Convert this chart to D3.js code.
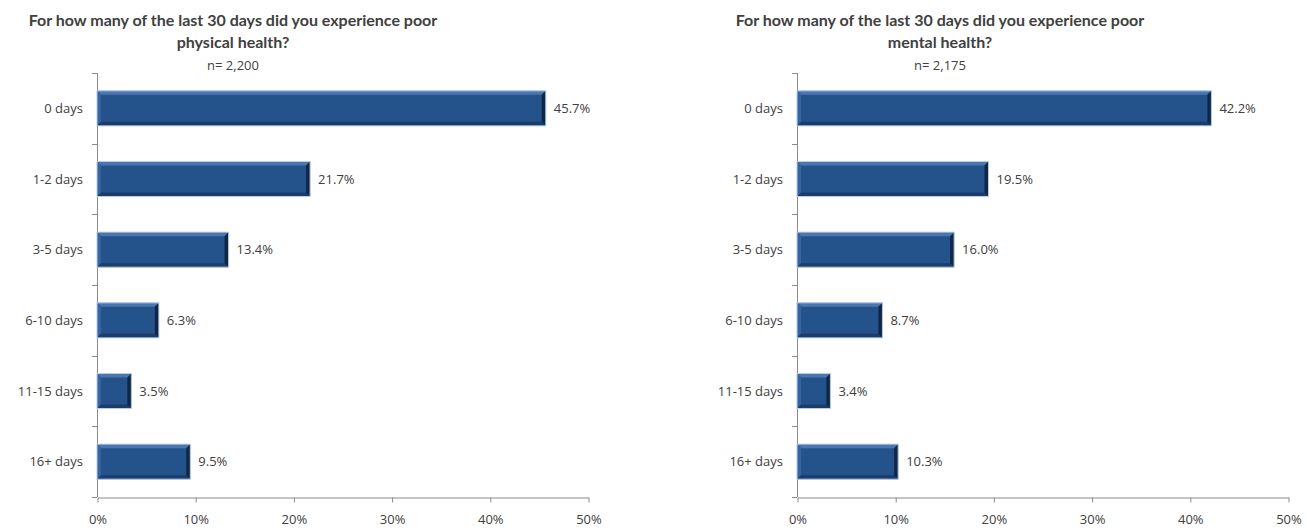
<!DOCTYPE html>
<html><head><meta charset="utf-8">
<script src="https://cdn.jsdelivr.net/npm/d3@7"></script>
<style>body{margin:0;background:#fff}svg{display:block}</style>
</head><body>
<svg id="c" width="1307" height="532"></svg>
<script>
const categories = ["0 days","1-2 days","3-5 days","6-10 days","11-15 days","16+ days"];
const physicalValues = [45.7,21.7,13.4,6.3,3.5,9.5];
const mentalValues = [42.2,19.5,16.0,8.7,3.4,10.3];
const xTicks = [0,10,20,30,40,50];
const titles = [
  ["For how many of the last 30 days did you experience poor","physical health?","n= 2,200"],
  ["For how many of the last 30 days did you experience poor","mental health?","n= 2,175"]
];

const svg = d3.select("#c");
const FONT = "'Open Sans', 'Liberation Sans', sans-serif";
const TFONT = "Lato, 'Open Sans', sans-serif";
const panels = [
  {x0:97, x1:588, tcx:233, values:physicalValues, title:titles[0]},
  {x0:797, x1:1288, tcx:940, values:mentalValues, title:titles[1]}
];
const plotTop = 73, plotBottom = 497;

panels.forEach(p => {
  const g = svg.append("g");
  const x = d3.scaleLinear().domain([0,50]).range([p.x0,p.x1]);
  const yb = d3.scaleBand().domain(categories).range([plotTop,plotBottom]);
  const bh = 35;

  g.append("text").attr("x",p.tcx).attr("y",26).attr("text-anchor","middle")
    .attr("font-family",TFONT).attr("font-weight","bold").attr("font-size",16).attr("fill","#404040")
    .text(p.title[0]);
  g.append("text").attr("x",p.tcx).attr("y",48).attr("text-anchor","middle")
    .attr("font-family",TFONT).attr("font-weight","bold").attr("font-size",16).attr("fill","#404040")
    .text(p.title[1]);
  g.append("text").attr("x",p.tcx).attr("y",70).attr("text-anchor","middle")
    .attr("font-family",FONT).attr("font-size",13).attr("fill","#404040")
    .text(p.title[2]);

  const axisColor = "#8c8c8c";
  g.append("line").attr("x1",p.x0+0.5).attr("x2",p.x0+0.5).attr("y1",plotTop).attr("y2",plotBottom)
    .attr("stroke",axisColor).attr("stroke-width",1);
  const bounds = categories.map(c=>yb(c)).concat([plotBottom]);
  g.selectAll(".yt").data(bounds).join("line")
    .attr("x1",p.x0-5).attr("x2",p.x0).attr("y1",d=>Math.round(d)+0.5).attr("y2",d=>Math.round(d)+0.5)
    .attr("stroke",axisColor);

  const xa = d3.axisBottom(x).tickValues(xTicks).tickFormat(d=>d+"%").tickSize(5).tickSizeOuter(0);
  const ax = g.append("g").attr("transform",`translate(0.5,${plotBottom+0.5})`).call(xa);
  ax.select(".domain").attr("stroke",axisColor);
  ax.selectAll(".tick line").attr("stroke",axisColor);
  ax.selectAll(".tick text").attr("font-family",FONT).attr("font-size",13).attr("fill","#404040").attr("dy","1.4em");

  g.selectAll(".cl").data(categories).join("text")
    .attr("x",p.x0-14).attr("y",d=>yb(d)+yb.bandwidth()/2).attr("dy","0.35em")
    .attr("text-anchor","end").attr("font-family",FONT).attr("font-size",13).attr("fill","#404040")
    .text(d=>d);

  const data = categories.map((c,i)=>({c, v:p.values[i]}));
  const bars = g.selectAll(".bar").data(data).join("g");
  bars.each(function(d){
    const b = d3.select(this);
    const x0 = x(0), x1 = x(d.v);
    const y0 = yb(d.c) + yb.bandwidth()/2 - bh/2, y1 = y0 + bh;
    const e = 4;
    b.append("rect").attr("x",x0).attr("y",y0).attr("width",x1-x0).attr("height",bh)
      .attr("fill","#24528a");
    b.append("polygon").attr("points",[[x0,y0],[x1,y0],[x1-e,y0+e],[x0+e,y0+e]].join(" "))
      .attr("fill","#4a77b0");
    b.append("polygon").attr("points",[[x0,y0],[x0+e,y0+e],[x0+e,y1-e],[x0,y1]].join(" "))
      .attr("fill","#3564a0");
    b.append("polygon").attr("points",[[x0,y1],[x0+e,y1-e],[x1-e,y1-e],[x1,y1]].join(" "))
      .attr("fill","#1a3d6b");
    b.append("polygon").attr("points",[[x1,y0],[x1,y1],[x1-e,y1-e],[x1-e,y0+e]].join(" "))
      .attr("fill","#0f2745");
    b.append("rect").attr("x",x0).attr("y",y0).attr("width",x1-x0).attr("height",bh)
      .attr("fill","none").attr("stroke","#b9cde5").attr("stroke-width",1);
    b.append("text").attr("x",x1+8).attr("y",(y0+y1)/2).attr("dy","0.35em")
      .attr("font-family",FONT).attr("font-size",13).attr("fill","#404040")
      .text(d.v.toFixed(1)+"%");
  });
});
</script>
</body></html>
